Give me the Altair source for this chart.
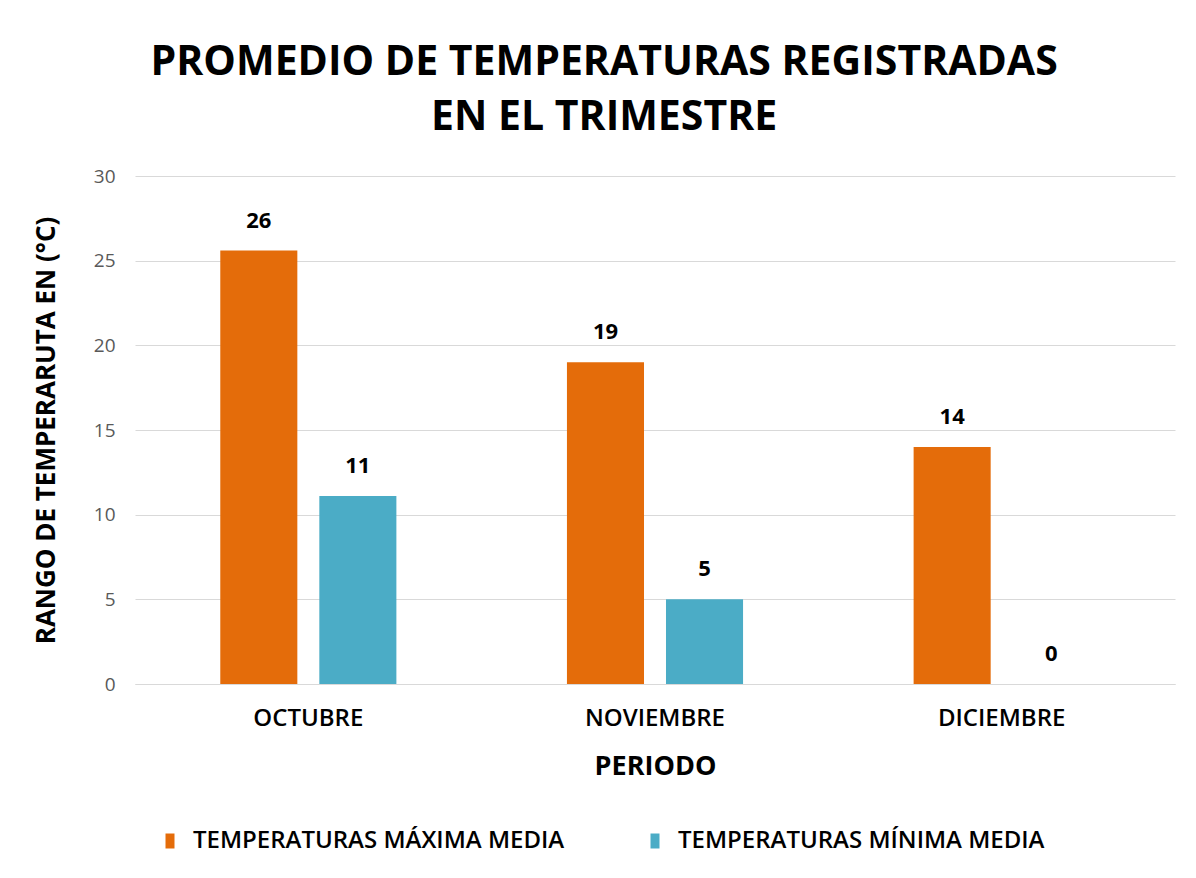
import altair as alt
import pandas as pd

months = ["OCTUBRE", "NOVIEMBRE", "DICIEMBRE"]
series = ["TEMPERATURAS MÁXIMA MEDIA", "TEMPERATURAS MÍNIMA MEDIA"]
max_vals = [25.6, 19.0, 14.0]
min_vals = [11.1, 5.0, 0.0]
colors = ["#E46C0A", "#4BACC6"]
y_ticks = [0, 5, 10, 15, 20, 25, 30]

rows = []
for m, a, b in zip(months, max_vals, min_vals):
    rows.append({"mes": m, "serie": series[0], "valor": a})
    rows.append({"mes": m, "serie": series[1], "valor": b})
df = pd.DataFrame(rows)

FONT = "Open Sans"

x = alt.X("mes:N", sort=months, title="PERIODO",
          scale=alt.Scale(paddingInner=0.492, paddingOuter=0.246),
          axis=alt.Axis(labelAngle=0, ticks=False, domainColor="#D9D9D9",
                        labelFont=FONT, labelFontSize=24, labelFontWeight=600,
                        labelColor="#000000", labelPadding=22,
                        titleFont=FONT, titleFontSize=27, titleFontWeight="bold",
                        titleColor="#000000", titlePadding=23))
xo = alt.XOffset("serie:N", sort=series,
                 scale=alt.Scale(paddingInner=0.222, paddingOuter=0))
y = alt.Y("valor:Q", title="RANGO DE TEMPERARUTA  EN (°C)",
          scale=alt.Scale(domain=[0, 30]),
          axis=alt.Axis(values=y_ticks, ticks=False, domain=False,
                        gridColor="#D9D9D9", labelFont=FONT, labelFontSize=19,
                        labelColor="#595959", labelPadding=20,
                        titleFont=FONT, titleFontSize=26, titleFontWeight="bold",
                        titleColor="#000000", titlePadding=34))
color = alt.Color("serie:N", sort=series,
                  scale=alt.Scale(domain=series, range=colors),
                  legend=alt.Legend(title=None, orient="none", direction="horizontal",
                                    legendX=20, legendY=650,
                                    symbolType="M-0.3,-0.5H0.3V0.5H-0.3Z",
                                    symbolSize=900, symbolStrokeWidth=0,
                                    labelFont=FONT, labelFontSize=24, labelFontWeight=600,
                                    labelColor="#000000", labelOffset=8,
                                    labelLimit=0, columnPadding=75))

base = alt.Chart(df)
bars = base.mark_bar().encode(x=x, xOffset=xo, y=y, color=color)
labels = base.mark_text(baseline="bottom", dy=-18, font=FONT, fontSize=22,
                        fontWeight="bold", color="#000000").encode(
    x=alt.X("mes:N", sort=months), xOffset=xo, y="valor:Q",
    text=alt.Text("valor:Q", format=".0f"))

chart = (bars + labels).properties(
    width=1040, height=508,
    title=alt.Title(["PROMEDIO DE TEMPERATURAS REGISTRADAS", "EN EL TRIMESTRE"],
                    font=FONT, fontSize=41, fontWeight="bold", color="#000000",
                    anchor="middle", frame="bounds", lineHeight=55, offset=28),
    autosize=alt.AutoSizeParams(type="none"),
    padding={"left": 127, "top": 168, "right": 13, "bottom": 186},
    background="white",
).configure_view(stroke=None)

chart.save("out.html", embed_options={"renderer": "svg", "actions": False})
